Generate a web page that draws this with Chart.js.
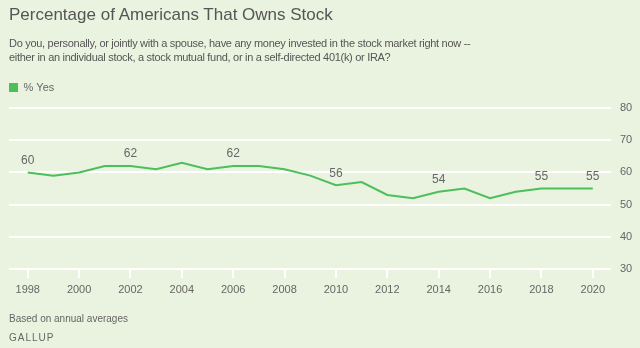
<!DOCTYPE html>
<html>
<head>
<meta charset="utf-8">
<script src="https://cdn.jsdelivr.net/npm/chart.js@4/dist/chart.umd.min.js"></script>
<style>
  html, body { margin: 0; padding: 0; }
  body { width: 640px; height: 348px; background: #eaf3e0; position: relative; overflow: hidden; font-family: "Liberation Sans Narrow", "Liberation Sans", sans-serif; color: #666; }
  #title { position: absolute; left: 9px; top: 5px; font-family: "Liberation Sans", sans-serif; font-size: 17px; color: #555; white-space: nowrap; }
  #sub { position: absolute; left: 9px; top: 36px; font-size: 11px; line-height: 14px; letter-spacing: -0.3px; color: #555; white-space: nowrap; }
  #note { position: absolute; left: 9px; top: 313px; font-size: 10px; color: #666; }
  #brand { position: absolute; left: 9px; top: 332px; font-size: 10px; letter-spacing: 1px; color: #666; font-family: "Liberation Sans", sans-serif; }
  #wrap { position: absolute; left: 0; top: 0; width: 640px; height: 348px; }
</style>
</head>
<body>
<div id="wrap"><canvas id="c" width="640" height="348"></canvas></div>
<div id="title">Percentage of Americans That Owns Stock</div>
<div id="sub">Do you, personally, or jointly with a spouse, have any money invested in the stock market right now --<br>either in an individual stock, a stock mutual fund, or in a self-directed 401(k) or IRA?</div>
<div id="note">Based on annual averages</div>
<div id="brand">GALLUP</div>
<script>
const years = [1998,1999,2000,2001,2002,2003,2004,2005,2006,2007,2008,2009,2010,2011,2012,2013,2014,2015,2016,2017,2018,2019,2020];
const pctYes = [60,59,60,62,62,61,63,61,62,62,61,59,56,57,53,52,54,55,52,54,55,55,55];
const labeledYears = [1998,2002,2006,2010,2014,2018,2020];
const xTickYears = [1998,2000,2002,2004,2006,2008,2010,2012,2014,2016,2018,2020];
const yTickValues = [30,40,50,60,70,80];
const seriesName = '% Yes';

const FONT = '"Liberation Sans Narrow", "Liberation Sans", sans-serif';
const GREEN = '#4cbf5a';

const labelPlugin = {
  id: 'pointLabels',
  beforeInit(chart) {
    const lg = chart.legend;
    if (lg) {
      const orig = lg.fit.bind(lg);
      lg.fit = function () { orig(); this.height = 26; };
    }
  },
  afterDatasetsDraw(chart) {
    const ctx = chart.ctx;
    const xs = chart.scales.x, ys = chart.scales.y;
    ctx.save();
    ctx.font = '12px ' + FONT;
    ctx.fillStyle = '#666';
    ctx.textAlign = 'center';
    ctx.textBaseline = 'middle';
    years.forEach((yr, i) => {
      if (labeledYears.includes(yr)) {
        ctx.fillText(String(pctYes[i]), xs.getPixelForValue(yr), ys.getPixelForValue(pctYes[i]) - 12);
      }
    });
    ctx.restore();
  }
};

new Chart(document.getElementById('c'), {
  type: 'line',
  data: {
    datasets: [{
      label: seriesName,
      data: years.map((y, i) => ({ x: y, y: pctYes[i] })),
      borderColor: GREEN,
      backgroundColor: GREEN,
      borderWidth: 2,
      pointRadius: 0,
      tension: 0,
      fill: false
    }]
  },
  options: {
    responsive: false,
    animation: false,
    layout: { padding: { top: 82, left: 9, right: 0, bottom: 0 } },
    plugins: {
      legend: {
        position: 'top',
        align: 'start',
        labels: {
          boxWidth: 9, boxHeight: 9, padding: 0,
          color: '#666',
          font: { family: FONT, size: 11 },
          generateLabels(chart) {
            return [{ text: seriesName, fillStyle: GREEN, strokeStyle: GREEN, lineWidth: 0, datasetIndex: 0, fontColor: '#666' }];
          }
        }
      },
      tooltip: { enabled: false }
    },
    scales: {
      x: {
        type: 'linear',
        min: 1997.27,
        max: 2020.71,
        afterBuildTicks(s) { s.ticks = xTickYears.map(v => ({ value: v })); },
        afterFit(s) { s.height = 79; },
        border: { display: false },
        grid: { drawOnChartArea: false, drawTicks: true, tickLength: 9, color: '#ffffff', lineWidth: 2 },
        ticks: { color: '#666', font: { family: FONT, size: 11 }, padding: 5, maxRotation: 0, autoSkip: false, callback: v => String(v) }
      },
      y: {
        position: 'right',
        min: 30,
        max: 80,
        afterBuildTicks(s) { s.ticks = yTickValues.map(v => ({ value: v })); },
        afterFit(s) { s.width = 29; },
        border: { display: false },
        grid: { drawTicks: false, color: '#ffffff', lineWidth: 2 },
        ticks: { color: '#666', font: { family: FONT, size: 11 }, padding: 9 }
      }
    }
  },
  plugins: [labelPlugin]
});
</script>
</body>
</html>
